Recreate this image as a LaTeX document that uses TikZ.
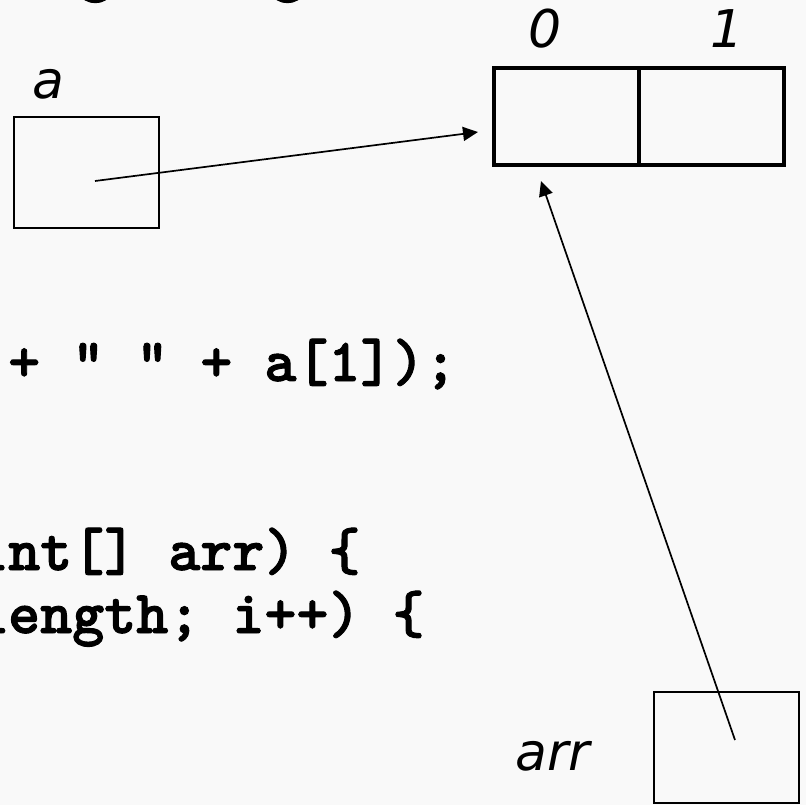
\documentclass[tikz,border=0pt]{standalone}
\usepackage{fontspec}
\newfontfamily\labelfont{DejaVu Sans}
\newfontfamily\codefont{lmmonolt10-bold.otf}[FakeBold=1.6]
\usetikzlibrary{arrows.meta}
\definecolor{slidebg}{HTML}{F9F9F9}
\begin{document}
\begin{tikzpicture}[x=1pt,y=-1pt,
  code/.style={font=\codefont\fontsize{61}{70}\selectfont,
               anchor=base west, inner sep=0pt},
  varlabel/.style={font=\labelfont\itshape\fontsize{52}{60}\selectfont,
               inner sep=0pt},
  varbox/.style={draw, line width=2.7pt, minimum width=145pt,
               minimum height=111pt, inner sep=0pt},
  cellbox/.style={draw, line width=3.3pt, minimum width=145pt,
               minimum height=97pt, inner sep=0pt},
  ptr/.style={line width=1.7pt, -{Triangle[length=15pt,width=14pt]}}]
\useasboundingbox (0,0) rectangle (806,805);
\clip (0,0) rectangle (806,805);
\fill[slidebg] (0,0) rectangle (806,805);

% source code lines running off the left and top edges
\node[code] (line0) at (-81,-11) {String[] args) \{};
\node[code] (line1) at (8,381)   {+ " " + a[1]);};
\node[code] (line2) at (-24,570) {int[] arr) \{};
\node[code] (line3) at (-24,633) {length; i++) \{};

% the array object with its two cells
\node[cellbox] (cell0) at (566.5,116.5) {};
\node[cellbox] (cell1) at (711.5,116.5) {};
\node[varlabel, anchor=base] (idx0) at (545,48) {0};
\node[varlabel, anchor=base] (idx1) at (727,48) {1};

% reference variables
\node[varbox] (boxa) at (86.5,172.5) {};
\node[varlabel, anchor=base] (labela) at (48,99) {a};
\node[varbox] (boxarr) at (726.5,747.5) {};
\node[varlabel, anchor=base west] (labelarr) at (515,770) {arr};

% pointers from the variables to the array
\coordinate (aref) at (95,181);
\coordinate (arrref) at (735,740);
\coordinate (hita) at (478,132);
\coordinate (hitarr) at (541,181);
\draw[ptr] (aref) -- (hita);
\draw[ptr] (arrref) -- (hitarr);
\end{tikzpicture}
\end{document}
